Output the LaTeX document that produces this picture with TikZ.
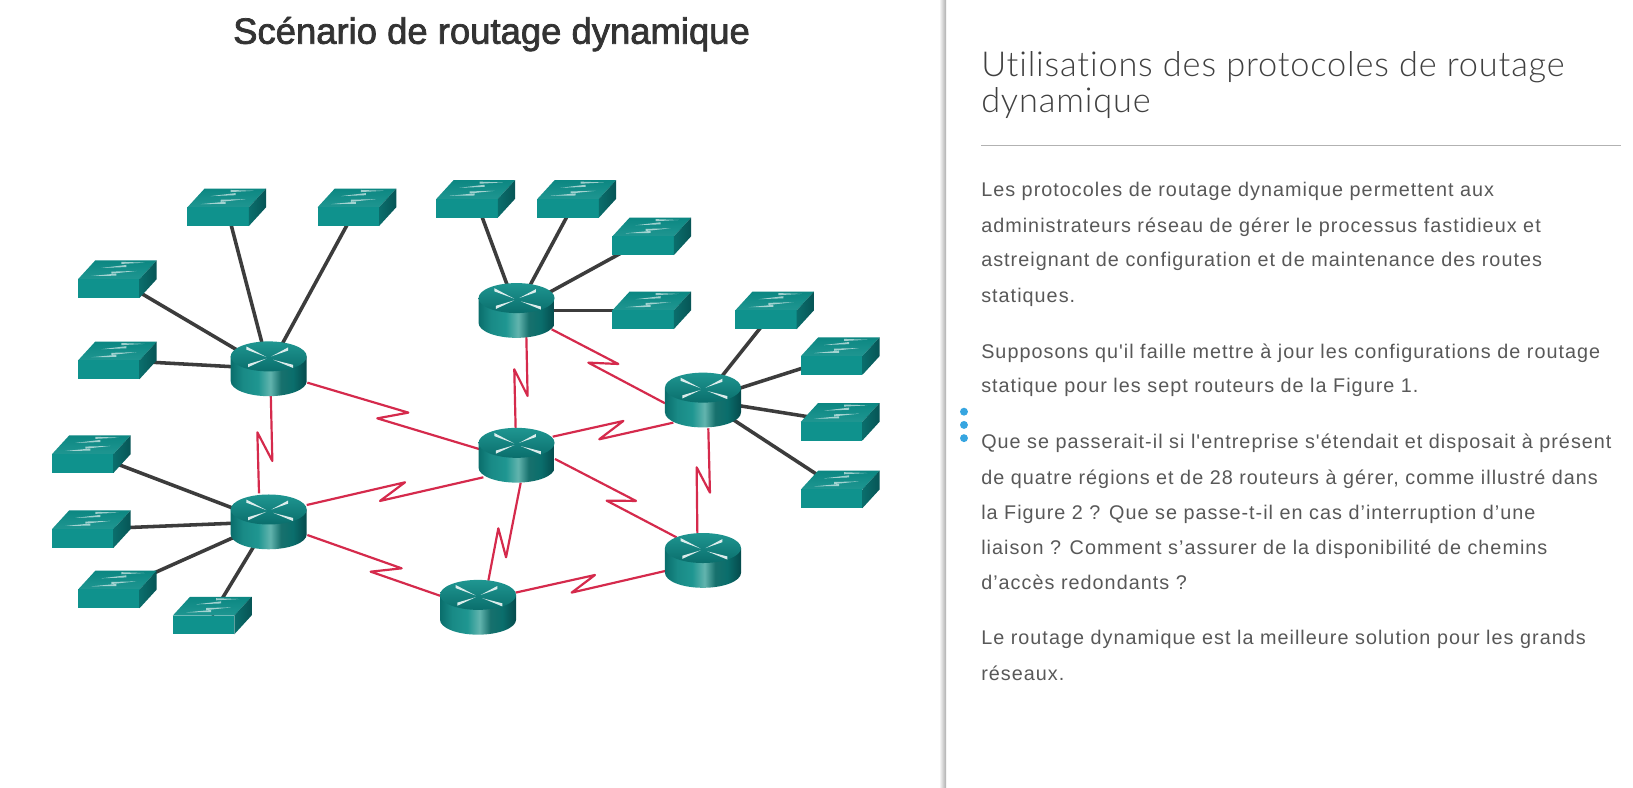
\documentclass[tikz,border=0pt]{standalone}
\usepackage{fontspec}
\setmainfont{Liberation Sans}
\newfontfamily\titlefont{Liberation Sans}[FakeBold=2]
\newfontfamily\bodyfont{Liberation Sans}[LetterSpace=5.2]
\newfontfamily\headfont{Lato Light}[LetterSpace=2.4,Ligatures=NoCommon]
\usetikzlibrary{calc}
\definecolor{teala}{HTML}{0C8782}
\definecolor{tealb}{HTML}{0A6E6C}
\definecolor{tealc}{HTML}{054A4C}
\definecolor{teald}{HTML}{1F9691}
\definecolor{tealf}{HTML}{0F928D}
\definecolor{tealh}{HTML}{62B4AE}
\definecolor{sercol}{HTML}{D52A4C}
\definecolor{ethcol}{HTML}{3C3C3C}
\definecolor{txtcol}{HTML}{585858}
\definecolor{dotcol}{HTML}{36A5E0}
\pgfdeclarehorizontalshading{routerside}{100bp}{color(0bp)=(tealb); color(25bp)=(tealb); color(33bp)=(teald!70!tealb); color(43bp)=(teald); color(51bp)=(tealh); color(58bp)=(teald!75!black); color(66bp)=(tealb); color(75bp)=(tealc); color(100bp)=(tealc)}
\tikzset{x=1pt,y=-1pt,
 devnode/.style={inner sep=0,outer sep=0,minimum width=36pt,minimum height=24pt},
 eth/.style={draw=ethcol,line width=3.4pt},
 ser/.style={draw=sercol,line width=2.1pt,line join=round},
 arrowmark/.style={fill=white,opacity=.85},
 swmark/.style={fill=white,opacity=.6},
 bodytxt/.style={anchor=base west,font=\fontsize{19}{19}\selectfont\bodyfont,text=txtcol,inner sep=0},
 headtxt/.style={anchor=base west,font=\fontsize{33}{33}\selectfont\headfont,text=black!75,inner sep=0}}
% link with a lightning bolt: start, forward point, back point, end
\newcommand{\zig}[4]{\draw[ser] ($#1$) -- (#2) -- (#3) -- ($#4$);}
\newcommand{\tapered}[6]{\fill[#1] (#2,#3+#6) -- (#2,#3-#6) -- (#4,#5) -- cycle;}
\newcommand{\router}[1]{%
 \begin{scope}[shift={(#1)}]
 \shade[shading=routerside] (-36.5,-11.8) -- (-36.5,12) arc[start angle=180,end angle=360,x radius=36.5,y radius=-14.4] -- (36.5,-11.8) -- cycle;
 \shade[top color=teald,bottom color=tealb] (0,-11.8) ellipse[x radius=36.5,y radius=14.4];
 \tapered{arrowmark}{-21.4}{-19.8}{-2.2}{-11.2}{1.5}
 \tapered{arrowmark}{18.6}{-18.9}{2.6}{-11.8}{1.5}
 \tapered{arrowmark}{-19.8}{-2.9}{-2.2}{-9.6}{1.5}
 \tapered{arrowmark}{23.4}{-2.2}{4.2}{-8.6}{1.5}
 \end{scope}}
\newcommand{\switch}[1]{%
 \begin{scope}[shift={(#1)}]
 \shade[top color=teala,bottom color=teald] (-37.5,0) -- (-21,-18) -- (38,-18) -- (21.5,0) -- cycle;
 \fill[tealf] (-37.5,0) rectangle (21.5,18);
 \shade[left color=tealb,right color=tealc!70!tealb] (21.5,0) -- (38,-18) -- (38,0) -- (21.5,18) -- cycle;
 \tapered{swmark}{4}{-15.6}{26.4}{-15.8}{1}
 \tapered{swmark}{8.8}{-12.6}{-15.2}{-10.7}{1}
 \tapered{swmark}{-5.6}{-6.2}{18.4}{-7.8}{1}
 \tapered{swmark}{-0.8}{-4.3}{-24.8}{-3}{1}
 \end{scope}}
\begin{document}
\begin{tikzpicture}
\useasboundingbox (0,0) rectangle (1568,756);
\fill[white] (0,0) rectangle (1568,756);
\shade[left color=black!5,right color=black!32] (902.6,0) rectangle (908.4,756);
% nodes
\foreach \n/\x/\y in {r1/258/354,r2/496/298,r3/675/384,r4/496/437,r5/258/501,r6/459/583,r7/675/538}
 \node[devnode] (\n) at (\x,\y) {};
\foreach \n/\x/\y in {s1/217.5/199,s2/342.5/199,s3/112.5/268,s4/112.5/346,s5/87.5/436,s6/87.5/508,s7/112.5/566,s8/203.5/591,s9/456.5/191,s10/553.5/191,s11/625.5/227,s12/625.5/298,s13/743.5/298,s14/806.5/342,s15/806.5/405,s16/806.5/470}
 \node[devnode] (\n) at (\x,\y) {};
% ethernet
\foreach \a/\b in {s1/r1,s2/r1,s3/r1,s4/r1,s5/r5,s6/r5,s7/r5,s8/r5,s9/r2,s10/r2,s11/r2,s12/r2,s13/r3,s14/r3,s15/r3,s16/r3}
 \draw[eth] (\a.center) -- (\b.center);
% serial
\zig{(r1)+(2,25)}{261.5,442.6}{247.1,415.1}{(r5)+(-9.3,-27.3)}
\zig{(r1)+(37.1,13.4)}{392.1,396.2}{362.3,401.7}{(r4)+(-35.1,-5.6)}
\zig{(r2)+(9.4,25.3)}{506.6,380.2}{493.8,354.6}{(r4)+(-0.9,-25.8)}
\zig{(r2)+(33.7,18.2)}{593.7,349.5}{564.9,348.2}{(r3)+(-36.5,3.2)}
\zig{(r4)+(34.7,-17.7)}{598.5,404.2}{575.4,421.8}{(r3)+(-28.5,21.8)}
\zig{(r5)+(36.5,-16.1)}{388.9,463.1}{364.9,481}{(r4)+(-31.9,21.3)}
\zig{(r5)+(37.1,12.7)}{385.7,545.7}{355.9,548.9}{(r6)+(-36.5,-11)}
\zig{(r4)+(4,26.4)}{485.9,535.1}{478.5,507.3}{(r6)+(9.9,-25.4)}
\zig{(r4)+(36.9,3.7)}{610.7,481}{582.5,480.7}{(r7)+(-25.3,-22)}
\zig{(r3)+(5.1,27.2)}{681.7,473}{668.9,448.7}{(r7)+(-5.4,-25.9)}
\zig{(r6)+(36.1,-14)}{571.3,552.1}{548.9,569}{(r7)+(-36.5,10.3)}
% icons
\foreach \n in {r1,r2,r3,r4,r5,r6,r7} {\router{\n}}
\foreach \n in {s1,s2,s3,s4,s5,s6,s7,s8,s9,s10,s11,s12,s13,s14,s15,s16} {\switch{\n}}
% dots
\foreach \y in {395.3,408,420.7} \fill[dotcol] (925.6,\y) circle (3.8);
% texts
\node[anchor=base,inner sep=0,font=\fontsize{35}{35}\selectfont\titlefont,text=black!80] (title) at (472,42) {Scénario de routage dynamique};
\node[headtxt] (h1) at (942,73) {Utilisations des protocoles de routage};
\node[headtxt] (h2) at (942,108) {dynamique};
\draw[black!30,line width=1pt] (942,140) -- (1556,140);
\node[bodytxt] (t1) at (942,189) {Les protocoles de routage dynamique permettent aux};
\node[bodytxt] (t2) at (942,223) {administrateurs réseau de gérer le processus fastidieux et};
\node[bodytxt] (t3) at (942,256) {astreignant de configuration et de maintenance des routes};
\node[bodytxt] (t4) at (942,290) {statiques.};
\node[bodytxt] (t5) at (942,344) {Supposons qu'il faille mettre à jour les configurations de routage};
\node[bodytxt] (t6) at (942,377) {statique pour les sept routeurs de la Figure 1.};
\node[bodytxt] (t7) at (942,431) {Que se passerait-il si l'entreprise s'étendait et disposait à présent};
\node[bodytxt] (t8) at (942,465) {de quatre régions et de 28 routeurs à gérer, comme illustré dans};
\node[bodytxt] (t9) at (942,499) {la Figure 2 ? Que se passe-t-il en cas d’interruption d’une};
\node[bodytxt] (t10) at (942,532) {liaison ? Comment s’assurer de la disponibilité de chemins};
\node[bodytxt] (t11) at (942,566) {d’accès redondants ?};
\node[bodytxt] (t12) at (942,619) {Le routage dynamique est la meilleure solution pour les grands};
\node[bodytxt] (t13) at (942,653) {réseaux.};
\end{tikzpicture}
\end{document}
